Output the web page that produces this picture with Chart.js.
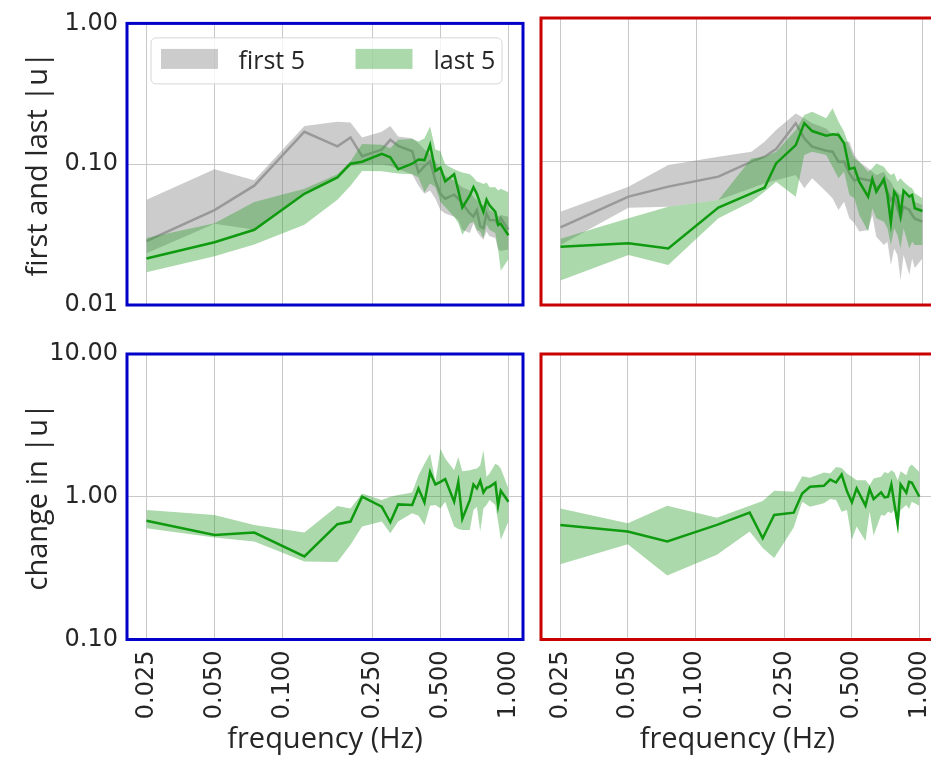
<!DOCTYPE html>
<html>
<head>
<meta charset="utf-8">
<script src="https://cdn.jsdelivr.net/npm/chart.js@4.4.1/dist/chart.umd.min.js"></script>
<style>
  html, body { margin: 0; padding: 0; background: #ffffff; overflow: hidden; }
  #wrap { position: relative; width: 931px; height: 760px; overflow: hidden; background: #ffffff; }
  #wrap canvas { position: absolute; left: 0; top: 0; }
</style>
</head>
<body>
<div id="wrap">
  <canvas id="tl" width="960" height="760"></canvas>
  <canvas id="tr" width="960" height="760"></canvas>
  <canvas id="bl" width="960" height="760"></canvas>
  <canvas id="br" width="960" height="760"></canvas>
</div>
<script>
// Stimulus frequencies (Hz), shared by all four panels
const freqs = [0.025, 0.05, 0.075, 0.125, 0.175, 0.2, 0.225, 0.275, 0.3, 0.325, 0.375, 0.4, 0.425, 0.45, 0.475,
               0.5, 0.525, 0.575, 0.6, 0.625, 0.675, 0.7, 0.725, 0.75, 0.775, 0.8, 0.825, 0.875, 0.9, 0.925, 1.0];

const xTickValues = [0.025, 0.05, 0.1, 0.25, 0.5, 1.0];
const yTicksAbs = [0.01, 0.1, 1];
const yTicksChange = [0.1, 1, 10];
const legendLabels = ['first 5', 'last 5'];

// Left column (blue): |u| over the first 5 trials
const aFirstMid = [0.0284, 0.0472, 0.0704, 0.170, 0.134, 0.155, 0.114, 0.127, 0.149, 0.135, 0.1236, 0.0872, 0.097, 0.105, 0.0763,
                   0.0616, 0.0569, 0.0607, 0.0569, 0.0525, 0.0447, 0.0424, 0.0472, 0.0361, 0.0351, 0.0447, 0.0402, 0.040, 0.0371, 0.0413, 0.0342];
const aFirstHi  = [0.056, 0.092, 0.077, 0.187, 0.200, 0.198, 0.155, 0.170, 0.187, 0.157, 0.153, 0.141, 0.127, 0.117, 0.105,
                   0.0896, 0.0827, 0.0763, 0.0723, 0.0686, 0.065, 0.0584, 0.0554, 0.0525, 0.0511, 0.0539, 0.0472, 0.0447, 0.0424, 0.0436, 0.0424];
const aFirstLo  = [0.0233, 0.0377, 0.0342, 0.0616, 0.0827, 0.097, 0.0997, 0.0997, 0.097, 0.092, 0.0849, 0.0704, 0.0616, 0.065, 0.0569,
                   0.0472, 0.0447, 0.0424, 0.0402, 0.0342, 0.0325, 0.0381, 0.0333, 0.0308, 0.0291, 0.0333, 0.0308, 0.0299, 0.0248, 0.0242, 0.0248];
// Left column: |u| over the last 5 trials
const aLastMid  = [0.0214, 0.0279, 0.0342, 0.0616, 0.0805, 0.1008, 0.1041, 0.1183, 0.112, 0.092, 0.1008, 0.108, 0.107, 0.1375, 0.0896,
                   0.0946, 0.0755, 0.0849, 0.065, 0.0492, 0.060, 0.0686, 0.0616, 0.0525, 0.0459, 0.056, 0.0511, 0.0459, 0.0371, 0.0377, 0.0313];
const aLastHi   = [0.0299, 0.0381, 0.0539, 0.0668, 0.0849, 0.105, 0.139, 0.1375, 0.130, 0.149, 0.151, 0.145, 0.153, 0.185, 0.127,
                   0.1236, 0.0997, 0.092, 0.0896, 0.0872, 0.0849, 0.0805, 0.0755, 0.074, 0.0723, 0.074, 0.0686, 0.0686, 0.065, 0.0668, 0.0633];
const aLastLo   = [0.0171, 0.0222, 0.0269, 0.0371, 0.056, 0.0704, 0.0896, 0.089, 0.0872, 0.086, 0.0849, 0.0805, 0.0633, 0.073, 0.0686,
                   0.0539, 0.0497, 0.0424, 0.0381, 0.0316, 0.0381, 0.039, 0.0342, 0.0333, 0.0299, 0.0371, 0.0342, 0.0325, 0.0248, 0.0175, 0.0211];
// Left column: ratio last / first
const aChangeMid = [0.68, 0.54, 0.561, 0.382, 0.642, 0.67, 1.0, 0.852, 0.663, 0.884, 0.875, 1.143, 0.913, 1.49, 1.219,
                    1.27, 1.33, 0.923, 1.27, 0.699, 0.95, 1.219, 1.143, 1.293, 1.072, 1.155, 1.174, 1.252, 0.866, 1.101, 0.923];
const aChangeHi  = [0.807, 0.745, 0.635, 0.561, 0.861, 0.829, 1.055, 0.948, 1.0, 1.027, 1.072, 1.416, 1.706, 2.0, 1.272,
                    2.17, 1.85, 1.533, 1.9, 1.51, 1.533, 1.56, 1.575, 1.66, 2.115, 1.378, 1.454, 1.706, 1.66, 1.575, 1.143];
const aChangeLo  = [0.602, 0.518, 0.486, 0.352, 0.349, 0.461, 0.618, 0.67, 0.555, 0.67, 0.765, 0.737, 0.635, 0.866, 0.875,
                    0.829, 0.923, 0.618, 0.595, 0.586, 0.586, 0.807, 0.852, 0.57, 0.829, 0.875, 0.948, 0.875, 0.67, 0.50, 0.67];

// Right column (red): |u| over the first 5 trials
const bFirstMid = [0.0348, 0.0569, 0.0668, 0.0784, 0.0997, 0.108, 0.122, 0.185, 0.145, 0.127, 0.119, 0.117, 0.0997, 0.100, 0.0827,
                   0.0735, 0.0763, 0.074, 0.074, 0.065, 0.0723, 0.0616, 0.0539, 0.0569, 0.0472, 0.0402, 0.0484, 0.0459, 0.0424, 0.040, 0.0381];
const bFirstHi  = [0.0447, 0.0668, 0.0946, 0.108, 0.117, 0.1375, 0.166, 0.216, 0.200, 0.185, 0.170, 0.153, 0.161, 0.1375, 0.1375,
                   0.111, 0.0997, 0.0896, 0.0849, 0.0805, 0.0849, 0.0763, 0.0723, 0.065, 0.0616, 0.0584, 0.060, 0.0569, 0.0554, 0.0525, 0.0497];
const bFirstLo  = [0.0262, 0.0477, 0.0484, 0.0539, 0.065, 0.0704, 0.074, 0.0805, 0.065, 0.0763, 0.0616, 0.0554, 0.0459, 0.0525, 0.0402,
                   0.0371, 0.0325, 0.0333, 0.0424, 0.0299, 0.0262, 0.0276, 0.019, 0.0248, 0.0223, 0.0149, 0.0223, 0.0162, 0.0211, 0.0181, 0.0211];
// Right column: |u| over the last 5 trials
const bLastMid  = [0.0255, 0.0269, 0.0248, 0.0477, 0.060, 0.0657, 0.097, 0.130, 0.185, 0.163, 0.1514, 0.155, 0.153, 0.134, 0.0887,
                   0.0906, 0.0723, 0.0569, 0.0755, 0.0616, 0.0755, 0.0584, 0.0377, 0.0616, 0.0569, 0.0424, 0.0626, 0.0569, 0.0584, 0.0472, 0.0452];
const bLastHi   = [0.0289, 0.0402, 0.0484, 0.0539, 0.105, 0.108, 0.117, 0.166, 0.211, 0.222, 0.200, 0.235, 0.190, 0.161, 0.127,
                   0.105, 0.0997, 0.0849, 0.0896, 0.097, 0.092, 0.0849, 0.0805, 0.0827, 0.0723, 0.0763, 0.0723, 0.0668, 0.065, 0.060, 0.0554];
const bLastLo   = [0.0148, 0.0223, 0.019, 0.0402, 0.0525, 0.0616, 0.0723, 0.0569, 0.111, 0.117, 0.111, 0.092, 0.0763, 0.0849, 0.0584,
                   0.0554, 0.0424, 0.0325, 0.0472, 0.0402, 0.0381, 0.0342, 0.0262, 0.0342, 0.0308, 0.0248, 0.0342, 0.0248, 0.0276, 0.0262, 0.0262];
// Right column: ratio last / first
const bChangeMid = [0.635, 0.57, 0.486, 0.635, 0.774, 0.512, 0.745, 0.774, 1.055, 1.174, 1.193, 1.32, 1.258, 1.43, 1.095,
                    0.913, 1.143, 0.866, 1.131, 0.963, 1.072, 0.989, 1.0, 1.219, 0.875, 0.645, 1.219, 1.066, 1.272, 1.258, 1.0];
const bChangeHi  = [0.829, 0.652, 0.866, 0.714, 0.866, 0.933, 1.101, 1.083, 1.393, 1.356, 1.477, 1.454, 1.618, 1.592, 1.454,
                    1.378, 1.306, 1.306, 1.206, 1.342, 1.378, 1.49, 1.454, 1.533, 1.477, 1.306, 1.51, 1.416, 1.618, 1.68, 1.49];
const bChangeLo  = [0.337, 0.465, 0.281, 0.392, 0.57, 0.437, 0.372, 0.608, 0.923, 0.852, 0.899, 0.963, 0.948, 0.786, 0.807,
                    0.50, 0.618, 0.49, 0.786, 0.535, 0.745, 0.737, 0.786, 0.766, 0.807, 0.586, 0.807, 0.875, 0.82, 0.923, 0.866];

// ---- styling ----
const CANVAS_W = 960, CANVAS_H = 760;
const GRAY_BAND = 'rgba(128,128,128,0.4)';
const GRAY_LINE = '#999999';
const GREEN_BAND = 'rgba(44,160,44,0.4)';
const GREEN_LINE = '#109a10';
const TEXT = '#262626';
const TICK_FONT = { family: "'DejaVu Sans', sans-serif", size: 24 };
const TITLE_FONT = { family: "'Open Sans', sans-serif", size: 29 };

function pts(vals) { return freqs.map((f, i) => ({ x: f, y: vals[i] })); }

// median line + shaded band between lower and upper bound (index 0 is drawn on top)
function bandSets(mid, lo, hi, band, line) {
  return [
    { data: pts(mid), borderColor: line, borderWidth: 2.5, pointRadius: 0, fill: false, tension: 0 },
    { data: pts(hi), borderColor: 'rgba(0,0,0,0)', borderWidth: 0, pointRadius: 0, backgroundColor: band, fill: '+1', tension: 0 },
    { data: pts(lo), borderColor: 'rgba(0,0,0,0)', borderWidth: 0, pointRadius: 0, fill: false, tension: 0 }
  ];
}

const framePlugin = {
  id: 'frame',
  afterDatasetsDraw(chart, args, opts) {
    const { left, top, right, bottom } = chart.chartArea;
    const ctx = chart.ctx;
    ctx.save();
    ctx.strokeStyle = opts.color;
    ctx.lineWidth = 3;
    ctx.strokeRect(left, top, right - left, bottom - top);
    ctx.restore();
  }
};

const bandLegendPlugin = {
  id: 'bandLegend',
  afterDraw(chart, args, opts) {
    if (!opts.show) return;
    const ctx = chart.ctx;
    const ca = chart.chartArea;
    const bx = ca.left + 24, by = ca.top + 14.5, bw = 351, bh = 46;
    ctx.save();
    ctx.beginPath();
    ctx.roundRect(bx, by, bw, bh, 5);
    ctx.fillStyle = 'rgba(255,255,255,0.8)';
    ctx.fill();
    ctx.strokeStyle = '#d6d6d6';
    ctx.lineWidth = 1;
    ctx.stroke();
    const colors = [chart.data.datasets[4].backgroundColor, chart.data.datasets[1].backgroundColor];
    const patchX = [bx + 10, bx + 204.5];
    const textX = [bx + 87.5, bx + 282.5];
    ctx.font = "25px 'Open Sans', sans-serif";
    ctx.textBaseline = 'alphabetic';
    ctx.textAlign = 'left';
    for (let i = 0; i < 2; i++) {
      ctx.fillStyle = colors[i];
      ctx.fillRect(patchX[i], by + 11, 57, 20);
      ctx.fillStyle = TEXT;
      ctx.fillText(legendLabels[i], textX[i], by + 31);
    }
    ctx.restore();
  }
};

function makePanel(id, p) {
  const showY = !!p.yTitle;
  const showX = !!p.xTitle;
  const yTicks = p.yTicks;
  new Chart(document.getElementById(id), {
    type: 'line',
    data: { datasets: p.datasets },
    options: {
      responsive: false,
      animation: false,
      events: [],
      layout: {
        padding: {
          left: showY ? 0 : p.area.l,
          top: p.area.t,
          right: CANVAS_W - p.area.r,
          bottom: showX ? 0 : CANVAS_H - p.area.b
        }
      },
      scales: {
        x: {
          type: 'logarithmic',
          min: 0.0205,
          max: 1.16,
          border: { display: false },
          grid: { color: '#c8c8c8', lineWidth: 1, drawTicks: false },
          afterBuildTicks: (s) => { s.ticks = xTickValues.map(v => ({ value: v })); },
          afterFit: (s) => { s.height = showX ? CANVAS_H - p.area.b : 0; },
          ticks: {
            display: showX,
            autoSkip: false,
            minRotation: 90,
            maxRotation: 90,
            padding: 11,
            color: TEXT,
            font: TICK_FONT,
            callback: (v) => Number(v).toFixed(3)
          },
          title: {
            display: showX,
            text: p.xTitle || '',
            color: TEXT,
            font: TITLE_FONT,
            padding: { top: 0, bottom: 3 }
          }
        },
        y: {
          type: 'logarithmic',
          min: yTicks[0],
          max: yTicks[yTicks.length - 1],
          border: { display: false },
          grid: { color: '#c8c8c8', lineWidth: 1, drawTicks: false },
          afterBuildTicks: (s) => { s.ticks = yTicks.map(v => ({ value: v })); },
          afterFit: (s) => { s.width = showY ? p.area.l : 0; },
          ticks: {
            display: showY,
            padding: 9,
            color: TEXT,
            font: TICK_FONT,
            callback: (v) => Number(v).toFixed(2)
          },
          title: {
            display: showY,
            text: p.yTitle || '',
            color: TEXT,
            font: TITLE_FONT,
            padding: { top: 21, bottom: 0 }
          }
        }
      },
      plugins: {
        legend: { display: false },
        tooltip: { enabled: false },
        frame: { color: p.frame },
        bandLegend: { show: !!p.legend }
      }
    },
    plugins: [framePlugin, bandLegendPlugin]
  });
}

const BLUE = '#0000c8', RED = '#c80000';
const topRow = { t: 18, b: 305 };
const botRow = { t: 354, b: 639.5 };
const leftCol = { l: 127, r: 523 };
const rightCol = { l: 541, r: 937 };

makePanel('tl', {
  area: { l: leftCol.l, r: leftCol.r, t: topRow.t, b: topRow.b },
  yTicks: yTicksAbs, yTitle: 'first and last |u|', frame: BLUE, legend: true,
  datasets: [...bandSets(aLastMid, aLastLo, aLastHi, GREEN_BAND, GREEN_LINE),
             ...bandSets(aFirstMid, aFirstLo, aFirstHi, GRAY_BAND, GRAY_LINE)]
});
makePanel('tr', {
  area: { l: rightCol.l, r: rightCol.r, t: topRow.t, b: topRow.b },
  yTicks: yTicksAbs, frame: RED,
  datasets: [...bandSets(bLastMid, bLastLo, bLastHi, GREEN_BAND, GREEN_LINE),
             ...bandSets(bFirstMid, bFirstLo, bFirstHi, GRAY_BAND, GRAY_LINE)]
});
makePanel('bl', {
  area: { l: leftCol.l, r: leftCol.r, t: botRow.t, b: botRow.b },
  yTicks: yTicksChange, yTitle: 'change in |u|', xTitle: 'frequency (Hz)', frame: BLUE,
  datasets: bandSets(aChangeMid, aChangeLo, aChangeHi, GREEN_BAND, GREEN_LINE)
});
makePanel('br', {
  area: { l: rightCol.l, r: rightCol.r, t: botRow.t, b: botRow.b },
  yTicks: yTicksChange, xTitle: 'frequency (Hz)', frame: RED,
  datasets: bandSets(bChangeMid, bChangeLo, bChangeHi, GREEN_BAND, GREEN_LINE)
});
</script>
</body>
</html>
